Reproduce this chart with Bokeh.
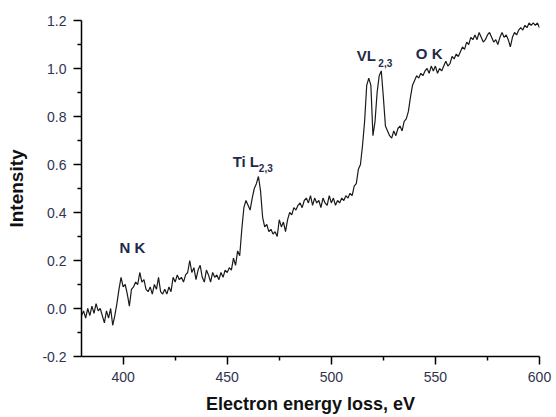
from bokeh.plotting import figure
from bokeh.models import FixedTicker, NumeralTickFormatter, Range1d
from bokeh.core.properties import value
from bokeh.embed import file_html
from bokeh.resources import INLINE

# Energy loss axis (eV), 1 eV steps
energy = list(range(380, 601))

# Intensity values
intensity = [
    -0.03, -0.01, -0.04, 0.00, -0.03, 0.01, -0.02, 0.02, -0.01, 0.00,   # 380-389
    -0.03, -0.06, -0.01, -0.04, 0.00, -0.07, -0.03, 0.02, 0.08, 0.13,   # 390-399
    0.09, 0.10, 0.06, 0.01, 0.08, 0.09, 0.11, 0.10, 0.15, 0.11,         # 400-409
    0.12, 0.08, 0.07, 0.09, 0.06, 0.10, 0.08, 0.13, 0.07, 0.06,         # 410-419
    0.08, 0.06, 0.09, 0.07, 0.13, 0.11, 0.14, 0.12, 0.13, 0.11,         # 420-429
    0.14, 0.15, 0.20, 0.15, 0.17, 0.12, 0.16, 0.18, 0.13, 0.11,         # 430-439
    0.16, 0.14, 0.11, 0.15, 0.13, 0.14, 0.12, 0.15, 0.13, 0.16,         # 440-449
    0.15, 0.17, 0.16, 0.21, 0.18, 0.24, 0.22, 0.33, 0.42, 0.45,         # 450-459
    0.43, 0.41, 0.46, 0.50, 0.52, 0.55, 0.49, 0.38, 0.34, 0.35,         # 460-469
    0.32, 0.33, 0.31, 0.32, 0.30, 0.37, 0.34, 0.36, 0.32, 0.37,         # 470-479
    0.40, 0.39, 0.42, 0.41, 0.43, 0.44, 0.42, 0.45, 0.46, 0.44,         # 480-489
    0.47, 0.43, 0.46, 0.44, 0.45, 0.42, 0.46, 0.44, 0.43, 0.47,         # 490-499
    0.44, 0.46, 0.43, 0.45, 0.44, 0.46, 0.45, 0.47, 0.46, 0.48,         # 500-509
    0.47, 0.51, 0.52, 0.58, 0.60, 0.68, 0.78, 0.93, 0.96, 0.93,         # 510-519
    0.72, 0.78, 0.90, 0.97, 0.99, 0.88, 0.76, 0.74, 0.72, 0.71,         # 520-529
    0.74, 0.72, 0.75, 0.76, 0.74, 0.78, 0.79, 0.82, 0.88, 0.93,         # 530-539
    0.95, 0.97, 0.96, 0.98, 0.97, 0.99, 1.00, 0.98, 1.01, 0.99,         # 540-549
    1.01, 0.98, 1.00, 0.99, 1.01, 1.03, 1.01, 1.02, 1.05, 1.04,         # 550-559
    1.06, 1.05, 1.07, 1.09, 1.08, 1.11, 1.10, 1.13, 1.12, 1.14,         # 560-569
    1.12, 1.15, 1.13, 1.11, 1.12, 1.14, 1.15, 1.13, 1.11, 1.12,         # 570-579
    1.10, 1.13, 1.15, 1.13, 1.14, 1.12, 1.09, 1.13, 1.15, 1.14,         # 580-589
    1.16, 1.17, 1.16, 1.18, 1.17, 1.19, 1.18, 1.19, 1.18, 1.19,         # 590-599
    1.17,                                                               # 600
]
assert len(energy) == len(intensity)

x_ticks = [400, 450, 500, 550, 600]
x_minor = [425, 475, 525, 575]
y_ticks = [-0.2, 0.0, 0.2, 0.4, 0.6, 0.8, 1.0, 1.2]
y_minor = [-0.1, 0.1, 0.3, 0.5, 0.7, 0.9, 1.1]

FONT = "Liberation Sans"
TICK_COLOR = "#30344f"
ANN_COLOR = "#1f2a48"

p = figure(width=556, height=417, output_backend="svg", toolbar_location=None,
           x_range=Range1d(380, 600), y_range=Range1d(-0.2, 1.2),
           min_border_left=81, min_border_right=17, min_border_top=20, min_border_bottom=61)
p.outline_line_color = None
p.xgrid.visible = False
p.ygrid.visible = False
p.background_fill_color = "white"
p.border_fill_color = "white"

p.line(energy, intensity, line_color="#1a1a1a", line_width=1.2)

for ax in (p.xaxis[0], p.yaxis[0]):
    ax.axis_line_color = "black"
    ax.axis_line_width = 1.5
    ax.major_tick_line_color = "black"
    ax.minor_tick_line_color = "black"
    ax.major_tick_line_width = 1.5
    ax.minor_tick_line_width = 1.5
    ax.major_tick_in = 0
    ax.major_tick_out = 8
    ax.minor_tick_in = 0
    ax.minor_tick_out = 4
    ax.major_label_text_font = FONT
    ax.major_label_text_font_size = "14px"
    ax.major_label_text_color = TICK_COLOR
    ax.axis_label_text_font = FONT
    ax.axis_label_text_font_style = "bold"
    ax.axis_label_text_color = "#111111"

p.xaxis.axis_label_text_font_size = "18px"
p.yaxis.axis_label_text_font_size = "19px"
p.xaxis.ticker = FixedTicker(ticks=x_ticks, minor_ticks=x_minor)
p.yaxis.ticker = FixedTicker(ticks=y_ticks, minor_ticks=y_minor)
p.yaxis.formatter = NumeralTickFormatter(format="0.0")
p.xaxis.axis_label = "Electron energy loss, eV"
p.yaxis.axis_label = "Intensity"
p.xaxis.major_label_standoff = 7
p.xaxis.axis_label_standoff = 9
p.yaxis.major_label_standoff = 7
p.yaxis.axis_label_standoff = 12

def ann(x, y, txt, size):
    p.text(x=[x], y=[y], text=[txt], text_font=value(FONT), text_font_style="bold",
           text_font_size=size, text_color=ANN_COLOR, text_baseline="alphabetic",
           text_align="left")

ann(398.3, 0.254, "N K", "15px")
ann(452.6, 0.612, "Ti L", "15px")
ann(465.2, 0.587, "2,3", "10px")
ann(512.2, 1.054, "VL", "15px")
ann(522.6, 1.025, "2,3", "10px")
ann(540.6, 1.062, "O K", "15px")

open("out.html", "w").write(file_html(p, INLINE))
